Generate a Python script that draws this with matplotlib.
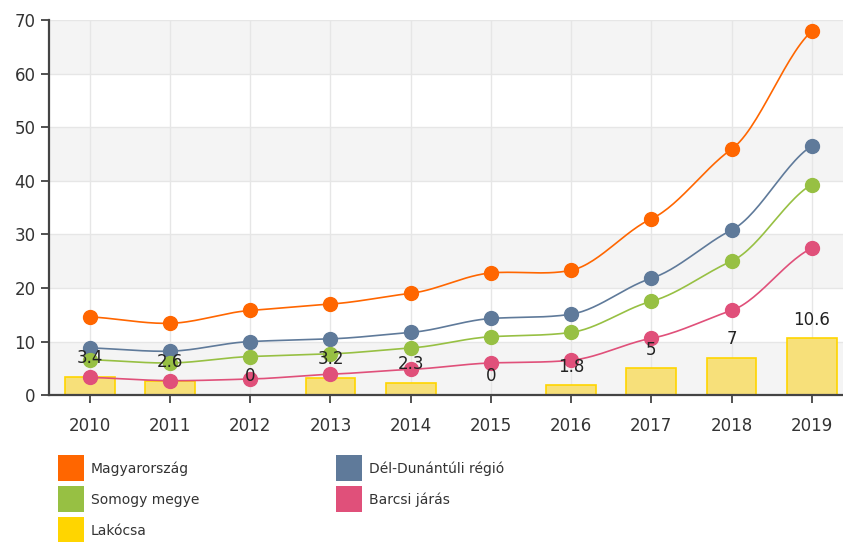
import numpy as np
import matplotlib
matplotlib.use("Agg")
import matplotlib.pyplot as plt
from matplotlib.patches import Rectangle

years = ['2010', '2011', '2012', '2013', '2014', '2015', '2016', '2017', '2018', '2019']
magyarorszag = [14.6, 13.4, 15.8, 17.0, 19.0, 22.8, 23.3, 32.9, 45.9, 67.9]
del_dunantul = [8.8, 8.2, 10.0, 10.5, 11.7, 14.3, 15.1, 21.8, 30.8, 46.5]
somogy = [6.6, 6.0, 7.2, 7.7, 8.8, 10.9, 11.7, 17.5, 25.0, 39.3]
barcs = [3.3, 2.7, 3.0, 3.9, 4.8, 6.0, 6.5, 10.6, 15.8, 27.4]
lakocsa = [3.4, 2.6, 0, 3.2, 2.3, 0, 1.8, 5, 7, 10.6]

series_names = ['Magyarország', 'Dél-Dunántúli régió', 'Somogy megye', 'Barcsi járás']
series_vals = [magyarorszag, del_dunantul, somogy, barcs]
series_colors = ['#ff6600', '#5f7a9a', '#97c043', '#e0507a']
bar_name = 'Lakócsa'
bar_color = '#ffd500'


def smooth(x, y, n=30):
    # cubic hermite between points
    x = np.asarray(x, float)
    y = np.asarray(y, float)
    m = np.zeros_like(y)
    m[1:-1] = (y[2:] - y[:-2]) / (x[2:] - x[:-2])
    m[0] = y[1] - y[0]
    m[-1] = y[-1] - y[-2]
    m *= 0.6
    xs, ys = [], []
    for i in range(len(x) - 1):
        t = np.linspace(0, 1, n)
        h = x[i + 1] - x[i]
        h00 = 2 * t**3 - 3 * t**2 + 1
        h10 = t**3 - 2 * t**2 + t
        h01 = -2 * t**3 + 3 * t**2
        h11 = t**3 - t**2
        xs.append(x[i] + t * h)
        ys.append(h00 * y[i] + h10 * h * m[i] + h01 * y[i + 1] + h11 * h * m[i + 1])
    return np.concatenate(xs), np.concatenate(ys)


fig = plt.figure(figsize=(8.43, 5.42), dpi=100)
ax = fig.add_axes([0.058, 0.271, 0.942, 0.692])

x = np.arange(len(years))

# alternating bands
for lo in range(0, 70, 20):
    ax.axhspan(lo, lo + 10, color='#f4f4f4', zorder=0, lw=0)
ax.set_axisbelow(True)
ax.grid(True, color='#e6e6e6', lw=1)

ax.bar(x, lakocsa, width=0.62, color='#f7e07a', edgecolor=bar_color, lw=1.2, zorder=2)
for xi, v in zip(x, lakocsa):
    ax.annotate(f'{v:g}', (xi, v), xytext=(0, 7), textcoords='offset points',
                ha='center', va='bottom', fontsize=12, color='#222222', zorder=6)

for vals, col in zip(series_vals, series_colors):
    sx, sy = smooth(x, vals)
    ax.plot(sx, sy, color=col, lw=1.2, zorder=3)
    ax.plot(x, vals, 'o', color=col, markersize=10, zorder=4)

ax.set_xlim(-0.51, 9.39)
ax.set_ylim(0, 70)
ax.set_yticks(range(0, 71, 10))
ax.set_xticks(x)
ax.set_xticklabels(years)
ax.tick_params(axis='both', labelsize=12, colors='#333333', length=6, width=1.2)
ax.tick_params(axis='x', pad=10)
for s in ['top', 'right']:
    ax.spines[s].set_visible(False)
for s in ['left', 'bottom']:
    ax.spines[s].set_color('#444444')
    ax.spines[s].set_linewidth(1.6)

# legend below the chart
legend_items = [(series_names[0], series_colors[0], 58, 455),
                (series_names[2], series_colors[2], 58, 486),
                (bar_name, bar_color, 58, 517),
                (series_names[1], series_colors[1], 336, 455),
                (series_names[3], series_colors[3], 336, 486)]
W, H = 843, 542
for name, col, px, py in legend_items:
    fig.add_artist(Rectangle((px / W, 1 - (py + 26) / H), 26 / W, 26 / H,
                             transform=fig.transFigure, facecolor=col, edgecolor='none'))
    fig.text((px + 33) / W, 1 - (py + 14) / H, name, fontsize=10, color='#333333',
             va='center', ha='left')

fig.savefig('out.png', dpi=100)
